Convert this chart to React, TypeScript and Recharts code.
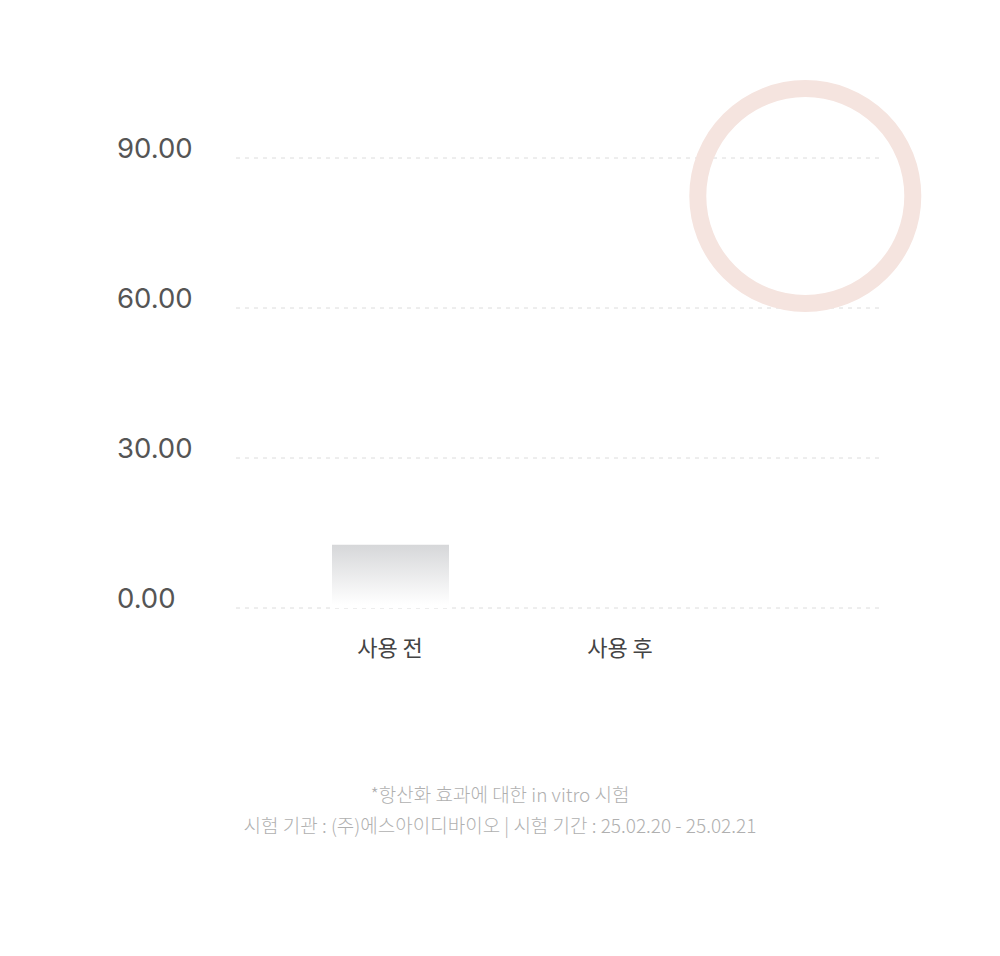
import { Bar, BarChart, CartesianGrid, ReferenceDot, XAxis, YAxis } from "recharts"

const categories = ["사용 전", "사용 후"]
const values = [12.65, 0]
const yTicks = [0, 30, 60, 90]
// highlight ring: x as a fraction of the plot width, y in chart units
const highlight = { x: 0.884, y: 82.4 }
const notes = [
  "*항산화 효과에 대한 in vitro 시험",
  "시험 기관 : (주)에스아이디바이오 | 시험 기간 : 25.02.20 - 25.02.21",
]

const data = categories.map((name, i) => ({ name, value: values[i] }))

const YTick = ({ y, payload }: any) => (
  <text
    x={117}
    y={y - 10}
    textAnchor="start"
    dominantBaseline="central"
    fill="#555"
    fontSize={27.5}
    fontFamily="Inter, 'Noto Sans', sans-serif"
  >
    {Number(payload.value).toFixed(2)}
  </text>
)

const XTick = ({ x, y, payload }: any) => (
  <text
    x={x}
    y={y + 30}
    textAnchor="middle"
    dominantBaseline="central"
    fill="#444"
    fontSize={22}
    fontFamily="'Noto Sans CJK KR', sans-serif"
  >
    {payload.value}
  </text>
)

export default function App() {
  return (
    <div style={{ position: "absolute", left: 0, top: 0, width: 1000, height: 956, background: "#fff" }}>
      <BarChart
        width={1000}
        height={700}
        data={data}
        margin={{ top: 158, right: 120, left: 0, bottom: 32 }}
      >
        <defs>
          <linearGradient id="barFill" x1="0" y1="0" x2="0" y2="1">
            <stop offset="0%" stopColor="#d6d7d9" />
            <stop offset="95%" stopColor="#ffffff" />
          </linearGradient>
        </defs>
        <CartesianGrid vertical={false} stroke="#dcdcdc" strokeDasharray="4 5" />
        <XAxis
          dataKey="name"
          axisLine={false}
          tickLine={false}
          padding={{ left: 39, right: 145 }}
          tick={<XTick />}
          height={60}
          interval={0}
        />
        <XAxis xAxisId="pos" type="number" domain={[0, 1]} hide />
        <YAxis
          domain={[0, 90]}
          ticks={yTicks}
          axisLine={false}
          tickLine={false}
          width={236}
          tick={<YTick />}
        />
        <Bar dataKey="value" fill="url(#barFill)" barSize={117} isAnimationActive={false} />
        <ReferenceDot
          xAxisId="pos"
          x={highlight.x}
          y={highlight.y}
          r={107.5}
          fill="none"
          stroke="#f5e4df"
          strokeWidth={17}
          ifOverflow="visible"
        />
      </BarChart>
      {notes.map((t, i) => (
        <div
          key={i}
          style={{
            position: "absolute",
            left: 0,
            width: 1000,
            top: 781 + i * 31,
            textAlign: "center",
            fontSize: 19,
            lineHeight: "26px",
            color: "#b0b0b0",
            fontWeight: 300,
            letterSpacing: 0,
            fontFamily: "'Noto Sans CJK KR', sans-serif",
          }}
        >
          {t}
        </div>
      ))}
    </div>
  )
}
